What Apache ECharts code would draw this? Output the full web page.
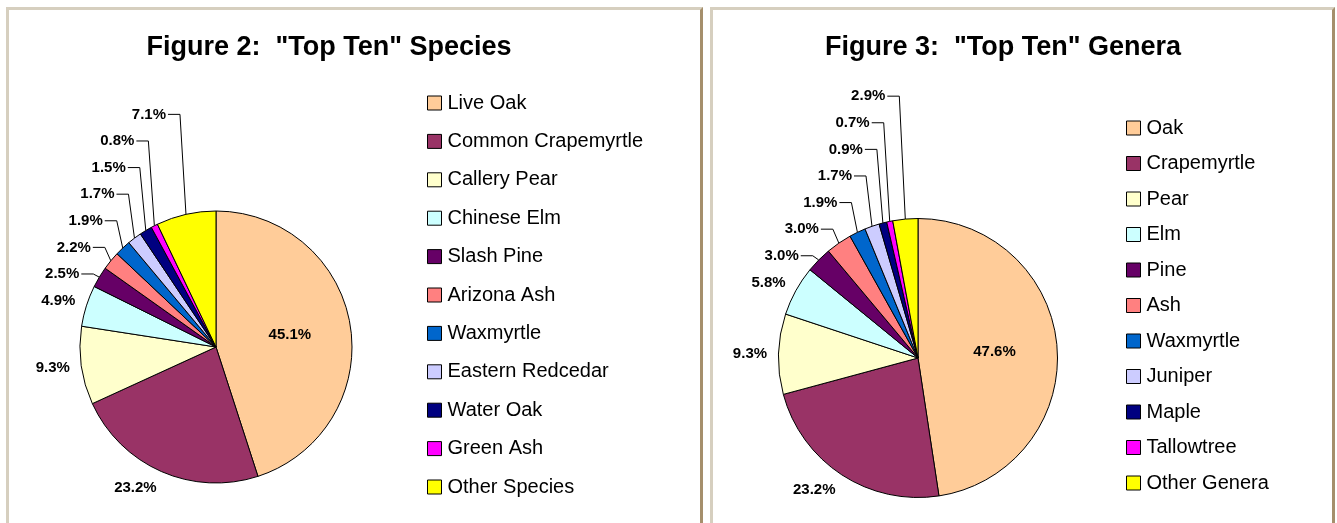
<!DOCTYPE html>
<html>
<head>
<meta charset="utf-8">
<script src="https://cdn.jsdelivr.net/npm/echarts/dist/echarts.min.js"></script>
<style>
  html, body { margin: 0; padding: 0; background: #ffffff; overflow: hidden; }
  .panel { position: absolute; box-sizing: border-box; top: 7px; height: 620px;
           border-left: 3px solid #d6cfbf; border-top: 3px solid #d6cfbf; border-right: 3px solid #a58f6c; }
  #p1 { left: 6px; width: 697px; }
  #p2 { left: 710px; width: 625px; }
  #chart { position: absolute; left: 0; top: 0; width: 1337px; height: 523px; z-index: 2; }
</style>
</head>
<body>
<div class="panel" id="p1"></div>
<div class="panel" id="p2"></div>
<div id="chart"></div>
<script>
// ---- data ----
const speciesNames = ['Live Oak', 'Common Crapemyrtle', 'Callery Pear', 'Chinese Elm', 'Slash Pine',
  'Arizona Ash', 'Waxmyrtle', 'Eastern Redcedar', 'Water Oak', 'Green Ash', 'Other Species'];
const speciesPct = [45.1, 23.2, 9.3, 4.9, 2.5, 2.2, 1.9, 1.7, 1.5, 0.8, 7.1];

const generaNames = ['Oak', 'Crapemyrtle', 'Pear', 'Elm', 'Pine', 'Ash', 'Waxmyrtle', 'Juniper',
  'Maple', 'Tallowtree', 'Other Genera'];
const generaPct = [47.6, 23.2, 9.3, 5.8, 3.0, 3.0, 1.9, 1.7, 0.9, 0.7, 2.9];

const sliceColors = ['#FFCC99', '#993366', '#FFFFCC', '#CCFFFF', '#660066', '#FF8080',
  '#0066CC', '#CCCCFF', '#000080', '#FF00FF', '#FFFF00'];

const titles = ['Figure 2:  "Top Ten" Species', 'Figure 3:  "Top Ten" Genera'];

// ---- layout (style) ----
const FONT = 'Arial, "Liberation Sans", Helvetica, sans-serif';
const pie1 = { cx: 216, cy: 347, r: 136 };
const pie2 = { cx: 918, cy: 358, r: 139.5 };

// Excel-like label placement: labels just outside the slice, small ones stacked upward with elbow leaders
function computeLabels(values, pie) {
  const total = values.reduce((a, b) => a + b, 0);
  const gap = 11.5, halfH = 6, detect = 35, step = 26.6, leaderOff = 20;
  let cum = 0, prevLeftY = null;
  return values.map(v => {
    const mid = (cum + v / 2) / total * 2 * Math.PI;
    cum += v;
    const dx = Math.sin(mid), dy = -Math.cos(mid);
    const ax = pie.cx + pie.r * dx, ay = pie.cy + pie.r * dy;
    if (v / total > 0.3) {
      return { inside: true, x: pie.cx + 0.55 * pie.r * dx, y: pie.cy + 0.55 * pie.r * dy, align: 'center', leader: false };
    }
    const left = dx < 0;
    let xEdge = ax + dx * gap;
    let y = ay + dy * (gap + halfH);
    let leader = false;
    if (left) {
      if (prevLeftY !== null && y > prevLeftY - detect) {
        y = prevLeftY - step;
        xEdge = ax - leaderOff;
        leader = true;
      }
      prevLeftY = y;
    }
    const line = leader ? [[ax, ay], [xEdge + 14, y], [xEdge + 2, y]] : null;
    return { inside: false, x: xEdge, y: y, align: left ? 'right' : 'left', leader: leader, line: line };
  });
}

const lab1 = computeLabels(speciesPct, pie1);
const lab2 = computeLabels(generaPct, pie2);

function makeSeries(name, names, vals, pie, labs) {
  return {
    type: 'pie',
    name: name,
    center: [pie.cx, pie.cy],
    radius: [0, pie.r],
    startAngle: 90,
    clockwise: true,
    avoidLabelOverlap: false,
    animation: false,
    silent: true,
    itemStyle: { borderColor: '#000', borderWidth: 1 },
    label: {
      show: true,
      formatter: p => p.value.toFixed(1) + '%',
      fontFamily: FONT, fontSize: 15, fontWeight: 'bold', color: '#000'
    },
    labelLine: { show: true, lineStyle: { color: '#000', width: 1 } },
    labelLayout: function (p) {
      const L = labs[p.dataIndex];
      const o = { x: L.x, y: L.y, align: L.align, verticalAlign: 'middle', hideOverlap: false, moveOverlap: false };
      if (L.line) o.labelLinePoints = L.line;
      return o;
    },
    data: names.map((n, i) => ({
      name: n,
      value: vals[i],
      itemStyle: { color: sliceColors[i] },
      label: { position: labs[i].inside ? 'inside' : 'outside' },
      labelLine: { show: labs[i].leader }
    }))
  };
}

function makeLegend(names, left, top, gap) {
  return {
    orient: 'vertical', left: left, top: top, padding: 0,
    itemWidth: 14, itemHeight: 14, itemGap: gap, icon: 'rect',
    selectedMode: false,
    itemStyle: { borderColor: '#000', borderWidth: 1 },
    textStyle: { fontFamily: FONT, fontSize: 20, color: '#000', lineHeight: 20, padding: [0, 0, 0, 1] },
    data: names
  };
}

const chart = echarts.init(document.getElementById('chart'), null, { renderer: 'canvas' });
chart.setOption({
  animation: false,
  title: [
    { text: titles[0], left: 329, top: 34, textAlign: 'center', padding: 0,
      textStyle: { fontFamily: FONT, fontSize: 27, fontWeight: 'bold', color: '#000' } },
    { text: titles[1], left: 1003, top: 34, textAlign: 'center', padding: 0,
      textStyle: { fontFamily: FONT, fontSize: 27, fontWeight: 'bold', color: '#000' } }
  ],
  legend: [
    makeLegend(speciesNames, 427, 93, 18.4),
    makeLegend(generaNames, 1126, 118, 15.5)
  ],
  series: [
    makeSeries('Species', speciesNames, speciesPct, pie1, lab1),
    makeSeries('Genera', generaNames, generaPct, pie2, lab2)
  ]
});
</script>
</body>
</html>
